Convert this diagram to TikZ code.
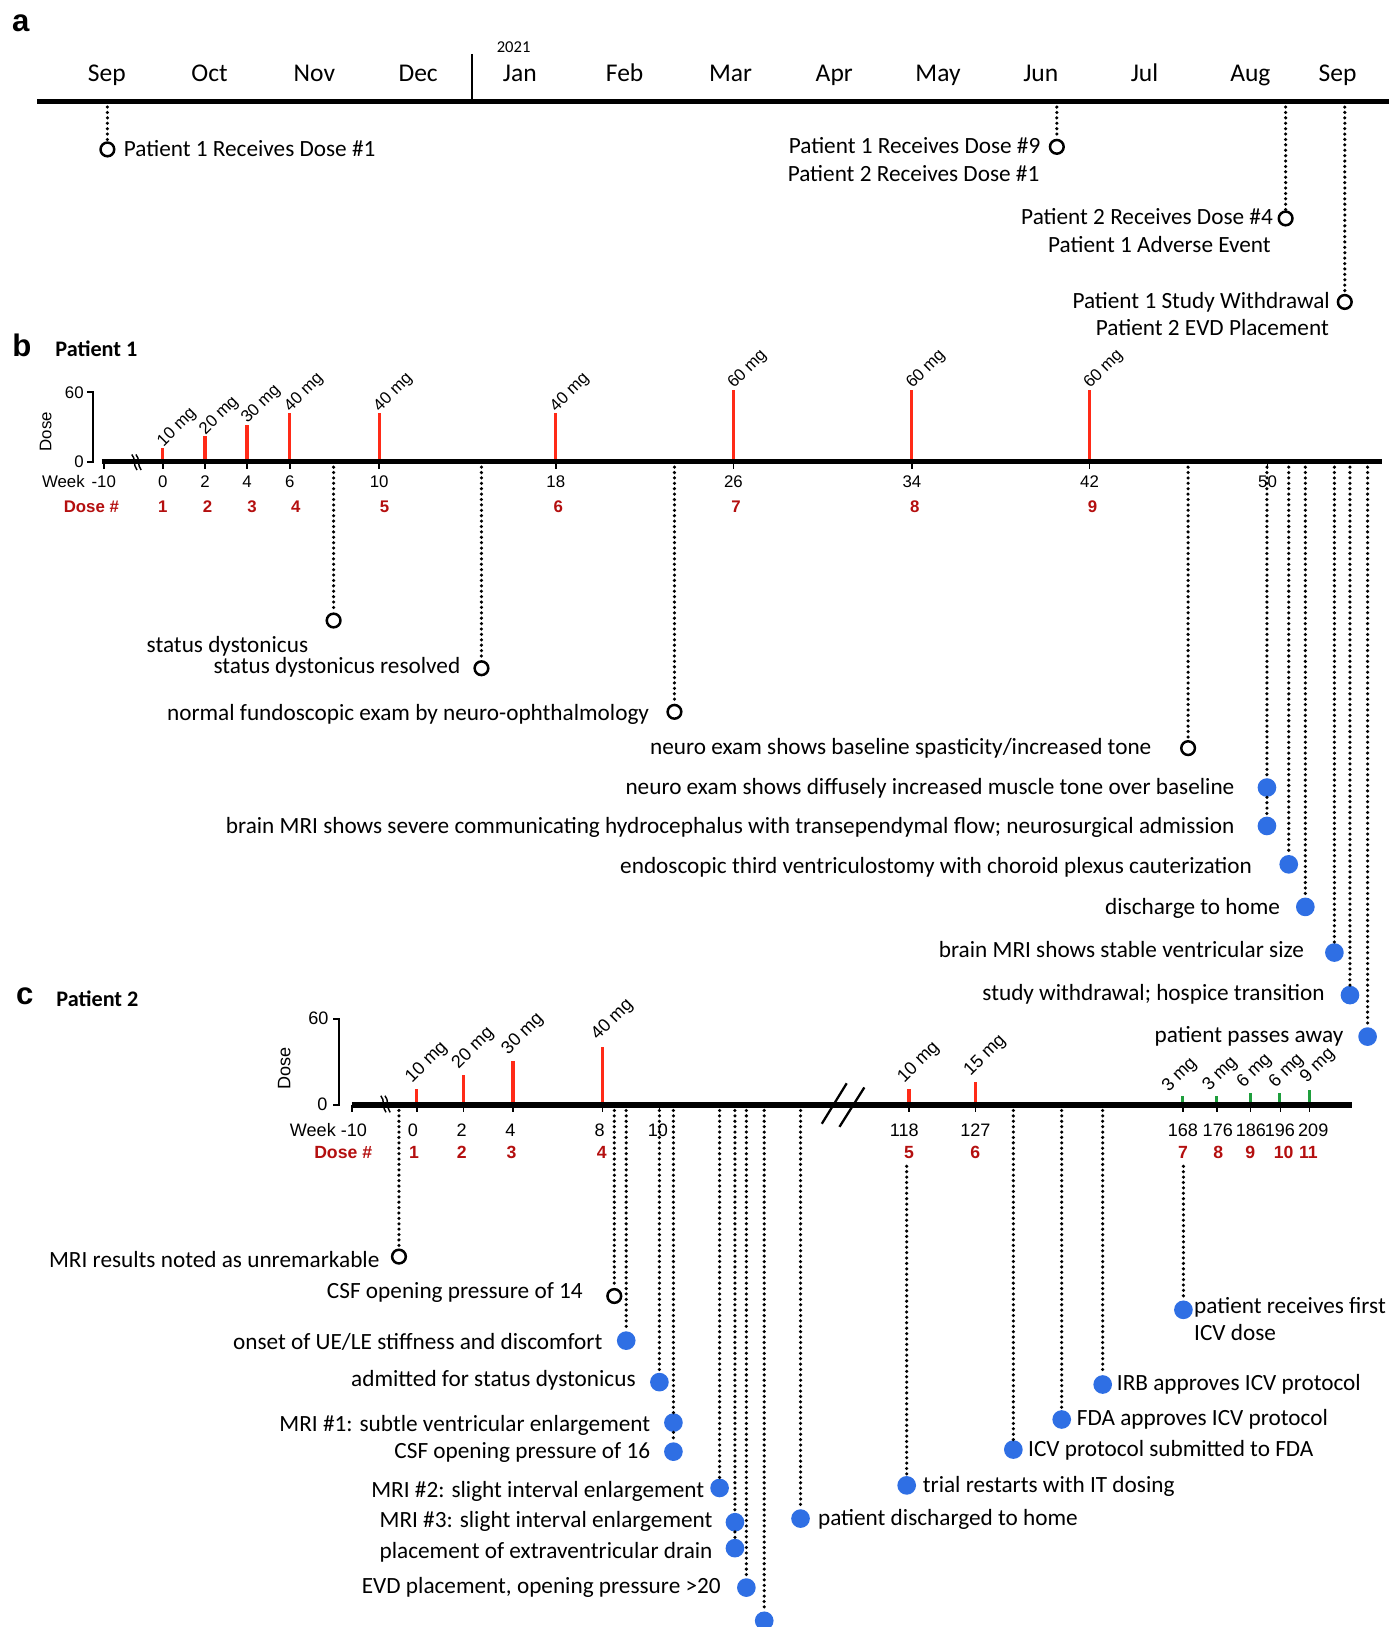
\documentclass[tikz,border=0pt]{standalone}
\usepackage{fontspec}
\setmainfont{Carlito}
\newfontfamily\arialfont{Liberation Sans}
\usepackage{xcolor}
\definecolor{bar-red}{HTML}{FF2A17}
\definecolor{dose-red}{HTML}{B40F0F}
\definecolor{event-blue}{HTML}{2F6FE4}
\definecolor{bar-green}{HTML}{1E9E3C}

\begin{document}
\begin{tikzpicture}[x=0.5pt, y=-0.5pt,
      every node/.style={inner sep=0pt},
      axis/.style={line width=2.5pt},
      conn/.style={line width=1.7pt, dash pattern=on 0pt off 2.6pt, line cap=round},
      opendot/.style={circle, draw, line width=1.2pt, minimum size=6.6pt},
      bluedot/.style={circle, fill=event-blue, minimum size=9pt},
      evt/.style={font=\fontsize{11.2}{13}\selectfont, text height=8.5pt, text depth=2pt},
      panel/.style={font=\arialfont\bfseries\fontsize{15}{17}\selectfont},
      title/.style={font=\bfseries\fontsize{10.7}{12}\selectfont, anchor=west},
      lbl/.style={font=\arialfont\fontsize{8.1}{9}\selectfont},
      lblc/.style={font=\arialfont\fontsize{8.7}{10}\selectfont},
      dosenum/.style={font=\arialfont\bfseries\fontsize{8.1}{9}\selectfont, text=dose-red},
      dosenumc/.style={font=\arialfont\bfseries\fontsize{8.5}{10}\selectfont, text=dose-red},
      mglbl/.style={lbl, rotate=45, anchor=south west},
      mglblc/.style={lblc, rotate=45, anchor=south west},
      dosebar/.style={line width=1.5pt, draw=bar-red},
      icvbar/.style={line width=1.5pt, draw=bar-green}]
  \useasboundingbox (0,0) rectangle (1339,1568);

  % ---------- a: calendar
  \node[panel] (la) at (20,22) {a};
  \node[font=\fontsize{8}{9}\selectfont] (yr) at (495,45) {2021};
  \foreach \m/\x [count=\i] in {Sep/103, Oct/202, Nov/303, Dec/403, Jan/501,
      Feb/602, Mar/704, Apr/804, May/904, Jun/1003, Jul/1103, Aug/1205, Sep/1289}
    \node[font=\fontsize{12.3}{14}\selectfont, text height=8.5pt, text depth=2.5pt] (m\i) at (\x,73) {\m};
  \coordinate (ta0) at (36,98);
  \coordinate (ta1) at (1339,98);
  \draw[line width=0.9pt] (455,52) -- (455,98);

  \node[opendot] (a1) at (103.5,144) {};
  \node[evt, anchor=west] (a1t) at (119,144) {Patient 1 Receives Dose \#1};
  \node[opendot] (a2) at (1018.5,141.5) {};
  \node[evt, anchor=east] (a2t) at (1003,141.5) {Patient 1 Receives Dose \#9};
  \node[evt, anchor=east] (a2u) at (1002,168) {Patient 2 Receives Dose \#1};
  \node[opendot] (a3) at (1239,210.5) {};
  \node[evt, anchor=east] (a3t) at (1227,210) {Patient 2 Receives Dose \#4};
  \node[evt, anchor=east] (a3u) at (1225,237) {Patient 1 Adverse Event};
  \node[opendot] (a4) at (1296,291) {};
  \node[evt, anchor=east] (a4t) at (1282,291) {Patient 1 Study Withdrawal};
  \node[evt, anchor=east] (a4u) at (1281,317) {Patient 2 EVD Placement};
  \foreach \e in {a1,a2,a3,a4}
    \draw[conn] (\e |- ta0) -- (\e);
  \draw[axis] (ta0) -- (ta1);

  % ---------- b: patient 1
  \node[panel] (lb) at (21,333) {b};
  \node[title] (tb) at (53,336) {Patient 1};
  \draw[line width=1pt] (84,378) -- (90,378) -- (90,445) -- (84,445);
  \node[lbl, anchor=east] (by60) at (81,378) {60};
  \node[lbl, anchor=east] (by0) at (81,445) {0};
  \node[lbl, rotate=90] (bdose) at (44,416) {Dose};
  \coordinate (bx0) at (98,445);
  \coordinate (bx1) at (1332,445);
  \foreach \w/\x [count=\i] in {-10/100, 0/157, 2/197.6, 4/238, 6/279.4, 10/365.4,
      18/535.6, 26/706.8, 34/878.8, 42/1050, 50/1221.6} {
    \draw[line width=0.8pt] (\x,445) -- (\x,452);
    \node[lbl] (bw\i) at (\x,464) {\w};
  }
  \node[lbl, anchor=east] (bweek) at (82,464) {Week};
  \node[dosenum, anchor=east] (bdn) at (115,488) {Dose \#};
  \foreach \d/\x in {1/157, 2/200, 3/243, 4/285, 5/370.5, 6/538, 7/709.4, 8/881.5, 9/1053}
    \node[dosenum] (bd\d) at (\x,488) {\d};
  \foreach \x/\mg [count=\i] in {157/10, 197.6/20, 238/30, 279.4/40, 365.4/40,
      535.6/40, 706.8/60, 878.8/60, 1050/60} {
    \draw[dosebar] (\x,443) -- (\x,{443-1.12*\mg});
    \node[mglbl] (bmg\i) at ({\x+3},{445-1.12*\mg}) {\mg\ mg};
  }
  \draw[axis] (bx0) -- (bx1);
  \draw[line width=0.7pt] (127,438) .. controls (131,442) and (128,448) .. (132,453);
  \draw[line width=0.7pt] (131,438) .. controls (135,442) and (132,448) .. (136,453);

  \node[opendot] (b1) at (321.5,598) {};
  \node[evt, anchor=west] (b1t) at (141,622) {status dystonicus};
  \node[opendot] (b2) at (464,644) {};
  \node[evt, anchor=east] (b2t) at (444,643) {status dystonicus resolved};
  \node[opendot] (b3) at (650,686) {};
  \node[evt, anchor=east] (b3t) at (626,688) {normal fundoscopic exam by neuro-ophthalmology};
  \node[opendot] (b4) at (1145,721) {};
  \node[evt, anchor=east] (b4t) at (1110,721) {neuro exam shows baseline spasticity/increased tone};
  \node[bluedot] (b5) at (1221,759) {};
  \node[evt, anchor=east] (b5t) at (1190,759) {neuro exam shows diffusely increased muscle tone over baseline};
  \node[bluedot] (b6) at (1221,796) {};
  \node[evt, anchor=east] (b6t) at (1190,797) {brain MRI shows severe communicating hydrocephalus with transependymal flow; neurosurgical admission};
  \node[bluedot] (b7) at (1242,833) {};
  \node[evt, anchor=east] (b7t) at (1207,835) {endoscopic third ventriculostomy with choroid plexus cauterization};
  \node[bluedot] (b8) at (1258,874) {};
  \node[evt, anchor=east] (b8t) at (1234,875) {discharge to home};
  \node[bluedot] (b9) at (1286,918) {};
  \node[evt, anchor=east] (b9t) at (1257,916) {brain MRI shows stable ventricular size};
  \node[bluedot] (b10) at (1301,959) {};
  \node[evt, anchor=east] (b10t) at (1277,958) {study withdrawal; hospice transition};
  \node[bluedot] (b11) at (1318,999) {};
  \node[evt, anchor=east] (b11t) at (1295,998) {patient passes away};
  \foreach \e in {b1,b2,b3,b4,b5,b7,b8,b9,b10,b11}
    \draw[conn] (\e |- bx0) -- (\e);
  \draw[conn] (b5) -- (b6);

  % ---------- c: patient 2
  \node[panel] (lc) at (24,960) {c};
  \node[title] (tc) at (54,963) {Patient 2};
  \draw[line width=1pt] (321,982) -- (327,982) -- (327,1065) -- (321,1065);
  \node[lblc, anchor=east] (cy60) at (317,981.5) {60};
  \node[lblc, anchor=east] (cy0) at (316,1064) {0};
  \node[lblc, rotate=90] (cdose) at (274,1030) {Dose};
  \coordinate (cx0) at (339,1065);
  \coordinate (cx1) at (1303,1065);
  \foreach \w/\x/\lx [count=\i] in {-10/339/341, 0/401.8/398, 2/446.6/445, 4/494.4/492,
      8/580.8/578, 10/635.6/634, 118/876/871.5, 127/940/940, 168/1140/1140,
      176/1173/1173.6, 186/1205/1205.5, 196/1234/1233.4, 209/1262/1265.6} {
    \draw[line width=0.8pt] (\x,1065) -- (\x,1072);
    \node[lblc] (cw\i) at (\lx,1089) {\w};
  }
  \node[lblc, anchor=east] (cweek) at (324,1089) {Week};
  \node[dosenumc, anchor=east] (cdn) at (359,1111) {Dose \#};
  \foreach \d/\x in {1/399, 2/445, 3/493, 4/580, 5/876, 6/940, 7/1140, 8/1174,
      9/1205, 10/1237, 11/1261}
    \node[dosenumc] (cd\d) at (\x,1111) {\d};
  \foreach \x/\mg [count=\i] in {401.8/10, 446.6/20, 494.4/30, 580.8/40, 876/10, 940/15} {
    \draw[dosebar] (\x,1063) -- (\x,{1063.6-1.37*\mg});
    \node[mglblc] (cmg\i) at ({\x-2},{1061-1.37*\mg}) {\mg\ mg};
  }
  \foreach \x/\mg/\lx/\ly [count=\i] in {1140/3/1129/1056, 1172/3/1168/1055,
      1205/6/1201/1052, 1233/6/1232/1052, 1262/9/1262/1047} {
    \draw[icvbar] (\x,1063) -- (\x,{1059-0.9*\mg});
    \node[mglblc] (cicv\i) at (\lx,\ly) {\mg\ mg};
  }
  \draw[axis] (cx0) -- (cx1);
  \draw[line width=0.7pt] (367,1056) .. controls (371,1060) and (368,1067) .. (372,1072);
  \draw[line width=0.7pt] (371,1056) .. controls (375,1060) and (372,1067) .. (376,1072);
  \draw[line width=1.1pt] (792,1083) -- (816,1044);
  \draw[line width=1.1pt] (809,1086) -- (833,1048);

  \node[opendot] (c1) at (384.5,1211) {};
  \node[evt, anchor=east] (c1t) at (366,1215) {MRI results noted as unremarkable};
  \node[opendot] (c2) at (592,1249) {};
  \node[evt, anchor=east] (c2t) at (562,1245) {CSF opening pressure of 14};
  \node[bluedot] (c3) at (603.5,1292) {};
  \node[evt, anchor=east] (c3t) at (581,1294) {onset of UE/LE stiffness and discomfort};
  \node[bluedot] (c4) at (635.5,1332) {};
  \node[evt, anchor=east] (c4t) at (613,1330) {admitted for status dystonicus};
  \node[bluedot] (c5) at (649,1371) {};
  \node[evt, anchor=east] (c5t) at (627,1373) {MRI \#1: subtle ventricular enlargement};
  \node[bluedot] (c6) at (649,1399) {};
  \node[evt, anchor=east] (c6t) at (627,1399) {CSF opening pressure of 16};
  \node[bluedot] (c7) at (693.5,1434) {};
  \node[evt, anchor=east] (c7t) at (679,1437) {MRI \#2: slight interval enlargement};
  \node[bluedot] (c8) at (708.3,1467) {};
  \node[evt, anchor=east] (c8t) at (687,1466) {MRI \#3: slight interval enlargement};
  \node[bluedot] (c9) at (708.3,1492) {};
  \node[evt, anchor=east] (c9t) at (687,1495) {placement of extraventricular drain};
  \node[bluedot] (c10) at (719.3,1530) {};
  \node[evt, anchor=east] (c10t) at (695,1529.5) {EVD placement, opening pressure >20};
  \node[bluedot] (c11) at (736.5,1562) {};
  \node[bluedot] (c12) at (771.5,1463.5) {};
  \node[evt, anchor=west] (c12t) at (788,1463.5) {patient discharged to home};
  \node[bluedot] (c13) at (873.8,1431.5) {};
  \node[evt, anchor=west] (c13t) at (889,1431.5) {trial restarts with IT dosing};
  \node[bluedot] (c14) at (976.6,1397) {};
  \node[evt, anchor=west] (c14t) at (990.5,1397.5) {ICV protocol submitted to FDA};
  \node[bluedot] (c15) at (1023.2,1368) {};
  \node[evt, anchor=west] (c15t) at (1037.5,1367.5) {FDA approves ICV protocol};
  \node[bluedot] (c16) at (1062.7,1334.3) {};
  \node[evt, anchor=west] (c16t) at (1076,1334) {IRB approves ICV protocol};
  \node[bluedot] (c17) at (1140.5,1262.3) {};
  \node[evt, anchor=west] (c17t) at (1150.5,1259) {patient receives first};
  \node[evt, anchor=west] (c17u) at (1150.5,1285) {ICV dose};
  \foreach \e in {c1,c2,c3,c4,c5,c7,c8,c10,c11,c12,c14,c15,c16}
    \draw[conn] (\e |- cx0) -- (\e);
  \draw[conn] (c5) -- (c6);
  \draw[conn] (c8) -- (c9);
  \coordinate (c13top) at (873.8,1124);
  \coordinate (c17top) at (1140.5,1124);
  \draw[conn] (c13top) -- (c13);
  \draw[conn] (c17top) -- (c17);
  \draw[axis] (cx0) -- (cx1);
\end{tikzpicture}
\end{document}
